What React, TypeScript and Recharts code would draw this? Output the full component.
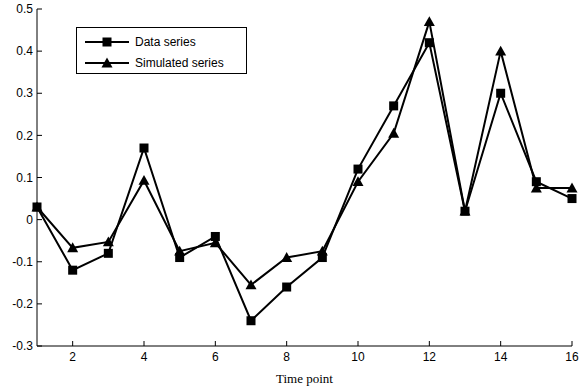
import React from 'react';
import { LineChart, Line, XAxis, YAxis, Legend } from 'recharts';

// Values
const timePoints = [1, 2, 3, 4, 5, 6, 7, 8, 9, 10, 11, 12, 13, 14, 15, 16];
const dataSeries = [0.03, -0.12, -0.08, 0.17, -0.09, -0.04, -0.24, -0.16, -0.09, 0.12, 0.27, 0.42, 0.02, 0.3, 0.09, 0.05];
const simulatedSeries = [0.03, -0.067, -0.053, 0.093, -0.075, -0.055, -0.155, -0.09, -0.075, 0.09, 0.205, 0.47, 0.02, 0.4, 0.075, 0.075];
const xTicks = [2, 4, 6, 8, 10, 12, 14, 16];
const yTicks = [-0.3, -0.2, -0.1, 0, 0.1, 0.2, 0.3, 0.4, 0.5];

const chartData = timePoints.map((t, i) => ({ t, data: dataSeries[i], sim: simulatedSeries[i] }));

const SANS = '"Liberation Sans", Arial, sans-serif';
const SERIF = '"Liberation Serif", "Times New Roman", serif';
const TICK_LEN = 5;

function BottomTick({ x, y, payload }: any) {
  return (
    <g>
      <line x1={x} y1={y} x2={x} y2={y - TICK_LEN} stroke="#000" />
      <text x={x} y={y + 11} dy="0.35em" textAnchor="middle" fontFamily={SANS} fontSize={12} fill="#000">
        {payload.value}
      </text>
    </g>
  );
}

function TopTick({ x, y }: any) {
  return <line x1={x} y1={y} x2={x} y2={y + TICK_LEN} stroke="#000" />;
}

function LeftTick({ x, y, payload }: any) {
  return (
    <g>
      <line x1={x} y1={y} x2={x + TICK_LEN} y2={y} stroke="#000" />
      <text x={x - 4} y={y} dy="0.35em" textAnchor="end" fontFamily={SANS} fontSize={12} fill="#000">
        {String(payload.value)}
      </text>
    </g>
  );
}

function RightTick({ x, y }: any) {
  return <line x1={x} y1={y} x2={x - TICK_LEN} y2={y} stroke="#000" />;
}

function SquareDot({ cx, cy, index }: any) {
  return <rect key={`sq-${index}`} x={cx - 4.5} y={cy - 4.5} width={9} height={9} fill="#000" />;
}

function TriangleDot({ cx, cy, index }: any) {
  const r = 5.5;
  return (
    <polygon
      key={`tr-${index}`}
      points={`${cx},${cy - r} ${cx + r},${cy + r * 0.8} ${cx - r},${cy + r * 0.8}`}
      fill="#000"
    />
  );
}

function LegendBox() {
  const rows = [
    { label: 'Data series', marker: 'square' },
    { label: 'Simulated series', marker: 'triangle' },
  ];
  return (
    <div
      style={{
        width: 169,
        height: 42,
        border: '1px solid #000',
        background: '#fff',
        boxSizing: 'content-box',
        fontFamily: SANS,
        fontSize: 12,
        color: '#000',
        paddingTop: 3,
      }}
    >
      {rows.map((r) => (
        <div key={r.label} style={{ display: 'flex', alignItems: 'center', height: 21 }}>
          <svg width={50} height={14} style={{ marginLeft: 8 }}>
            <line x1={0} y1={7} x2={44} y2={7} stroke="#000" strokeWidth={2} />
            {r.marker === 'square' ? (
              <rect x={17.5} y={2.5} width={9} height={9} fill="#000" />
            ) : (
              <polygon points="22,1.5 27.5,11.4 16.5,11.4" fill="#000" />
            )}
          </svg>
          <span>{r.label}</span>
        </div>
      ))}
    </div>
  );
}

export default function App() {
  return (
    <div>
      <style>{`body{margin:0;background:#fff}`}</style>
      <LineChart width={587} height={392} data={chartData} margin={{ top: 9, right: 15, left: 0, bottom: 0 }}>
        <XAxis
          dataKey="t"
          type="number"
          domain={[1, 16]}
          ticks={xTicks}
          height={46}
          tickSize={0}
          tickMargin={0}
          tickLine={false}
          axisLine={{ stroke: '#000' }}
          tick={<BottomTick />}
          interval={0}
          label={{ value: 'Time point', position: 'insideBottom', offset: 9, fontFamily: SERIF, fontSize: 13, fill: '#000' }}
        />
        <XAxis
          xAxisId="top"
          orientation="top"
          dataKey="t"
          type="number"
          domain={[1, 16]}
          ticks={xTicks}
          height={0}
          tickSize={0}
          tickMargin={0}
          tickLine={false}
          axisLine={{ stroke: '#000' }}
          tick={<TopTick />}
          interval={0}
        />
        <YAxis
          type="number"
          domain={[-0.3, 0.5]}
          ticks={yTicks}
          width={37}
          tickSize={0}
          tickMargin={0}
          tickLine={false}
          axisLine={{ stroke: '#000' }}
          tick={<LeftTick />}
          interval={0}
        />
        <YAxis
          yAxisId="right"
          orientation="right"
          type="number"
          domain={[-0.3, 0.5]}
          ticks={yTicks}
          width={0}
          tickSize={0}
          tickMargin={0}
          tickLine={false}
          axisLine={{ stroke: '#000' }}
          tick={<RightTick />}
          interval={0}
        />
        <Legend
          layout="vertical"
          align="center"
          verticalAlign="middle"
          wrapperStyle={{ left: 76, top: 27, width: 'auto' }}
          content={() => <LegendBox />}
        />
        <Line
          type="linear"
          dataKey="data"
          name="Data series"
          stroke="#000"
          strokeWidth={2}
          dot={SquareDot}
          activeDot={false}
          isAnimationActive={false}
        />
        <Line
          type="linear"
          dataKey="sim"
          name="Simulated series"
          stroke="#000"
          strokeWidth={2}
          dot={TriangleDot}
          activeDot={false}
          isAnimationActive={false}
        />
      </LineChart>
    </div>
  );
}
